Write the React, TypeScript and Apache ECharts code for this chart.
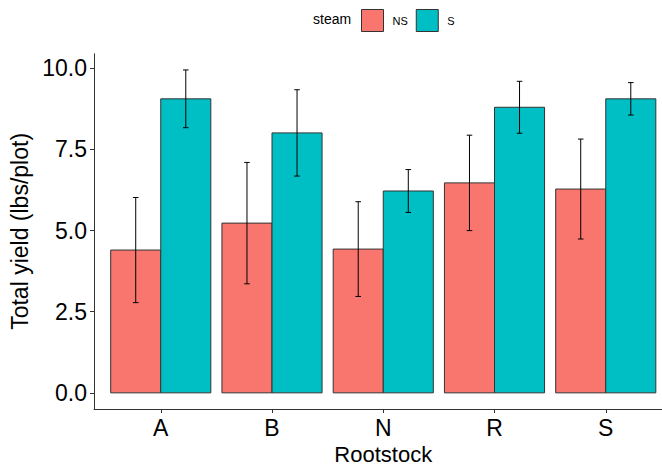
import React, { useEffect, useRef } from "react";
import * as echarts from "echarts";

const categories = ["A", "B", "N", "R", "S"];
const groups = ["NS", "S"];
const meanNS = [4.40, 5.23, 4.43, 6.47, 6.28];
const seNS = [1.62, 1.87, 1.46, 1.47, 1.54];
const meanS = [9.06, 8.01, 6.22, 8.80, 9.06];
const seS = [0.89, 1.33, 0.66, 0.80, 0.50];
const yTicks = [0, 2.5, 5, 7.5, 10];
const colors = ["#F8766D", "#00BFC4"];

const FONT = "Liberation Sans, Arial, sans-serif";

function buildData(mean: number[], se: number[]) {
  return mean.map((m, i) => [i, m, m - se[i], m + se[i]]);
}

function makeSeries(name: string, idx: number, data: number[][]) {
  const dodge = 0.9;
  const w = dodge / groups.length;
  const off = -dodge / 2 + w * idx + w / 2;
  return {
    type: "custom",
    name,
    itemStyle: { color: colors[idx], borderColor: "#333333", borderWidth: 1 },
    encode: { x: 0, y: [1, 2, 3] },
    data,
    renderItem: (params: any, api: any) => {
      const xi = api.value(0);
      const m = api.value(1);
      const lo = api.value(2);
      const hi = api.value(3);
      const cx = xi + off;
      const p0 = api.coord([cx - w / 2, m]);
      const p1 = api.coord([cx + w / 2, 0]);
      const c = api.coord([cx, hi]);
      const cl = api.coord([cx, lo]);
      const capL = api.coord([cx - 0.025, hi])[0];
      const capR = api.coord([cx + 0.025, hi])[0];
      const ls = { stroke: "#000000", lineWidth: 1 };
      return {
        type: "group",
        children: [
          {
            type: "rect",
            shape: { x: p0[0], y: p0[1], width: p1[0] - p0[0], height: p1[1] - p0[1] },
            style: { fill: colors[idx], stroke: "#333333", lineWidth: 1 },
          },
          { type: "line", shape: { x1: c[0], y1: c[1], x2: cl[0], y2: cl[1] }, style: ls },
          { type: "line", shape: { x1: capL, y1: c[1], x2: capR, y2: c[1] }, style: ls },
          { type: "line", shape: { x1: capL, y1: cl[1], x2: capR, y2: cl[1] }, style: ls },
        ],
      };
    },
  };
}

export default function App() {
  const ref = useRef<HTMLDivElement>(null);
  useEffect(() => {
    if (!ref.current) return;
    const chart = echarts.init(ref.current, null, { renderer: "svg" });
    const dataMax = Math.max(...meanS.map((m, i) => m + seS[i]), ...meanNS.map((m, i) => m + seNS[i]));
    const pad = dataMax * 0.05;
    chart.setOption({
      animation: false,
      backgroundColor: "#ffffff",
      title: {
        text: "steam",
        left: 313,
        top: 12,
        textStyle: { fontFamily: FONT, fontSize: 14, fontWeight: "normal", color: "#000" },
        padding: 0,
      },
      legend: {
        left: 361,
        top: 9,
        padding: 0,
        itemWidth: 22,
        itemHeight: 22,
        itemGap: 8,
        icon: "rect",
        textStyle: { fontFamily: FONT, fontSize: 11, color: "#000", padding: [0, 0, 0, 4] },
        data: groups.map((g, i) => ({
          name: g,
          itemStyle: { color: colors[i], borderColor: "#333333", borderWidth: 1 },
        })),
      },
      grid: { left: 94, top: 53.8, width: 578.5, height: 355.2, outerBoundsMode: "none", containLabel: false },
      xAxis: {
        type: "value",
        min: -0.6,
        max: categories.length - 1 + 0.6,
        name: "Rootstock",
        nameLocation: "middle",
        nameGap: 27,
        nameTextStyle: { fontFamily: FONT, fontSize: 22, color: "#000" },
        axisLine: { show: true, onZero: false, lineStyle: { color: "#333333", width: 1 } },
        axisTick: {
          show: true,
          length: 4,
          customValues: categories.map((_, i) => i),
          lineStyle: { color: "#333333" },
        },
        axisLabel: {
          customValues: categories.map((_, i) => i),
          formatter: (v: number) => categories[Math.round(v)] ?? "",
          fontFamily: FONT,
          fontSize: 23,
          color: "#000",
          margin: 7,
        },
        splitLine: { show: false },
      },
      yAxis: {
        type: "value",
        min: -pad,
        max: dataMax + pad,
        name: "Total yield (lbs/plot)",
        nameLocation: "middle",
        nameGap: 58,
        nameRotate: 90,
        nameTextStyle: { fontFamily: FONT, fontSize: 23, color: "#000" },
        axisLine: { show: true, onZero: false, lineStyle: { color: "#333333", width: 1 } },
        axisTick: { show: true, length: 4, customValues: yTicks, lineStyle: { color: "#333333" } },
        axisLabel: {
          customValues: yTicks,
          formatter: (v: number) => v.toFixed(1),
          fontFamily: FONT,
          fontSize: 23,
          color: "#000",
          margin: 7,
        },
        splitLine: { show: false },
      },
      series: [
        makeSeries("NS", 0, buildData(meanNS, seNS)),
        makeSeries("S", 1, buildData(meanS, seS)),
      ],
    });
    return () => chart.dispose();
  }, []);
  return (
    <div
      ref={ref}
      style={{ position: "fixed", left: 0, top: 0, width: 662, height: 466, background: "#fff" }}
    />
  );
}
